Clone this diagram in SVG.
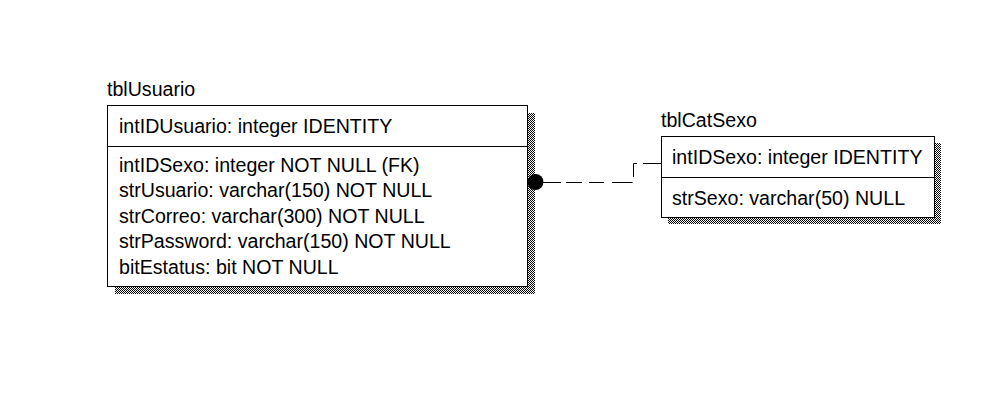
<svg xmlns="http://www.w3.org/2000/svg" width="991" height="410" viewBox="0 0 991 410">
<style>
  text { font-family: "Liberation Sans", Arial, sans-serif; font-size: 19.6px; fill: #000; }
  .box { fill: #fff; stroke: #000; stroke-width: 1; }
  .div { stroke: #000; stroke-width: 1; }
  .shadow { fill: url(#dither); }
  .conn { stroke: #000; stroke-width: 1; fill: none; }
</style>
<defs>
  <pattern id="dither" x="0" y="0" width="2" height="2" patternUnits="userSpaceOnUse">
    <rect x="0" y="0" width="2" height="2" fill="#fff"/>
    <rect x="0" y="0" width="1" height="1" fill="#000"/>
    <rect x="1" y="1" width="1" height="1" fill="#000"/>
  </pattern>
</defs>
<rect width="991" height="410" fill="#fff"/>

<g id="tblUsuario">
  <text x="107" y="96">tblUsuario</text>
  <rect class="shadow" x="115" y="113" width="420" height="181"/>
  <rect class="box" x="107.5" y="105.5" width="420" height="181"/>
  <line class="div" x1="107.5" y1="146.5" x2="527.5" y2="146.5"/>
  <text x="119" y="133">intIDUsuario: integer IDENTITY</text>
  <text x="119" y="171.5">intIDSexo: integer NOT NULL (FK)</text>
  <text x="119" y="197">strUsuario: varchar(150) NOT NULL</text>
  <text x="119" y="222.5">strCorreo: varchar(300) NOT NULL</text>
  <text x="119" y="248">strPassword: varchar(150) NOT NULL</text>
  <text x="119" y="273.5">bitEstatus: bit NOT NULL</text>
</g>

<g id="tblCatSexo">
  <text x="661" y="127">tblCatSexo</text>
  <rect class="shadow" x="668" y="143" width="273" height="81"/>
  <rect class="box" x="661.5" y="136.5" width="273" height="81"/>
  <line class="div" x1="661.5" y1="177.5" x2="934.5" y2="177.5"/>
  <text x="672" y="164">intIDSexo: integer IDENTITY</text>
  <text x="672" y="204.5">strSexo: varchar(50) NULL</text>
</g>

<g id="connectors">
  <path class="conn" d="M543,182.5 H561 M566,182.5 H582 M589,182.5 H604 M612,182.5 H632.5 M633.5,177 V163.5 H637 M643,163.5 H661"/>
  <circle cx="535.5" cy="182" r="8" fill="#000"/>
</g>
</svg>
